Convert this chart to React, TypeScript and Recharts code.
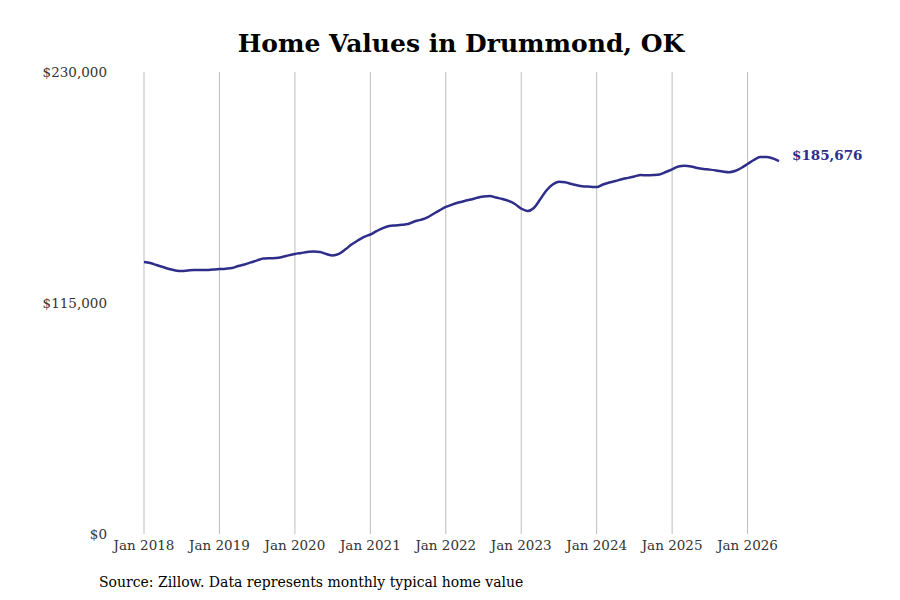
import React from "react";
import { Line, LineChart, ReferenceLine, XAxis, YAxis } from "recharts";

// monthly typical home value, Jan 2018 .. Jun 2026
const homeValues = [
  135400, 134900, 133900, 132900, 131900, 131200, 130900, 131200, 131400, 131400, 131400, 131700,
  131900, 132100, 132400, 133400, 134200, 135200, 136200, 137100, 137300, 137400, 137900, 138700,
  139400, 139900, 140400, 140700, 140400, 139400, 138700, 139500, 141600, 144100, 146100, 147900,
  149100, 150800, 152300, 153300, 153600, 153900, 154300, 155600, 156400, 157500, 159300, 161100,
  162800, 164000, 165000, 165800, 166500, 167400, 168000, 168300, 167500, 166800, 165800, 164300,
  162000, 160800, 162300, 166500, 171000, 174000, 175400, 175100, 174200, 173500, 173000, 172900,
  172700, 174000, 175000, 175700, 176600, 177300, 178000, 178700, 178600, 178700, 179000, 180200,
  181500, 183000, 183300, 183000, 182200, 181700, 181400, 181000, 180500, 180100, 180700, 182200,
  184200, 186200, 187700, 187700, 187000, 185676,
];
const startYear = 2018;
const yTicks = [0, 115000, 230000];
const xTickMonths = [0, 12, 24, 36, 48, 60, 72, 84, 96];

const LINE_COLOR = "#2e2d8a";
const FONT = '"DejaVu Serif", serif';

const data = homeValues.map((value, i) => ({ month: i, value }));
const lastIndex = data.length - 1;

const money = (v: number) => "$" + v.toLocaleString("en-US");

function EndLabel(props: any) {
  const { x, y, index } = props;
  if (index !== lastIndex) return null;
  return (
    <text x={x + 13} y={y - 6} dominantBaseline="central" fill={LINE_COLOR} fontFamily={FONT} fontSize={13.5} fontWeight="bold">
      {money(homeValues[lastIndex])}
    </text>
  );
}

export default function App() {
  return (
    <div style={{ position: "absolute", left: 0, top: 0, width: 900, height: 600, background: "#fff", fontFamily: FONT }}>
      <div style={{ position: "absolute", left: 0, width: 922, top: 29, textAlign: "center", fontSize: 25, fontWeight: "bold", color: "#000" }}>
        Home Values in Drummond, OK
      </div>
      <LineChart width={900} height={600} data={data} margin={{ top: 72, right: 121, bottom: 36, left: 0 }}>
        {xTickMonths.map((m) => (
          <ReferenceLine key={m} x={m} stroke="#bdbdbd" strokeWidth={1} />
        ))}
        <XAxis
          dataKey="month"
          type="number"
          domain={[0, lastIndex]}
          ticks={xTickMonths}
          tickFormatter={(m: number) => `Jan ${startYear + m / 12}`}
          axisLine={false}
          tickLine={false}
          tickMargin={0}
          height={30}
          tick={{ fill: "#333", fontSize: 13.5, fontFamily: FONT }}
          interval={0}
        />
        <YAxis
          type="number"
          domain={[0, 230000]}
          ticks={yTicks}
          width={144}
          tickFormatter={money}
          axisLine={false}
          tickLine={false}
          tickMargin={31}
          tick={{ fill: "#333", fontSize: 13.5, fontFamily: FONT }}
        />
        <Line
          type="monotone"
          dataKey="value"
          stroke={LINE_COLOR}
          strokeWidth={2.5}
          dot={false}
          label={EndLabel}
          isAnimationActive={false}
        />
      </LineChart>
      <div style={{ position: "absolute", left: 99, top: 574, fontSize: 14, color: "#000" }}>
        Source: Zillow. Data represents monthly typical home value
      </div>
    </div>
  );
}
